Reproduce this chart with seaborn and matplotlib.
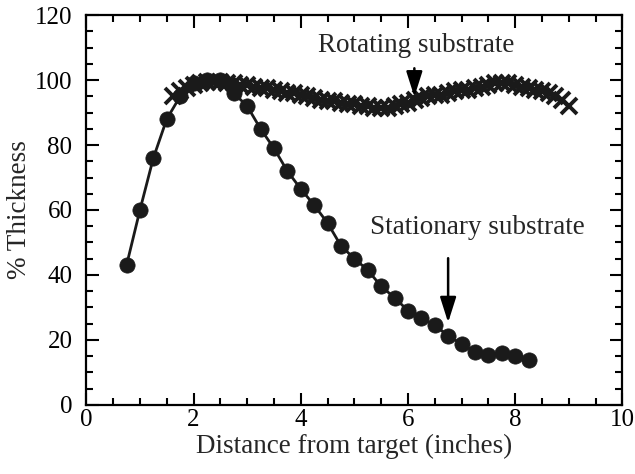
import numpy as np
import pandas as pd
import seaborn as sns
import matplotlib.pyplot as plt
from matplotlib.ticker import MultipleLocator

# Stationary substrate (circles)
stat_x = [0.75, 1.0, 1.25, 1.5, 1.75, 2.0, 2.25, 2.5, 2.75, 3.0, 3.25, 3.5, 3.75, 4.0,
          4.25, 4.5, 4.75, 5.0, 5.25, 5.5, 5.75, 6.0, 6.25, 6.5, 6.75, 7.0, 7.25,
          7.5, 7.75, 8.0, 8.25]
stat_y = [43, 60, 76, 88, 95, 99, 100, 100, 96, 92, 85, 79, 72, 66.5,
          61.5, 56, 49, 45, 41.5, 36.5, 33, 29, 26.7, 24.5, 21.3, 18.7, 16.4,
          15.4, 16, 15, 13.8]

# Rotating substrate (crosses)
rot_x = [1.625, 1.75, 1.875, 2.0, 2.125, 2.25, 2.375, 2.5, 2.625, 2.75, 2.875, 3.0,
         3.125, 3.25, 3.375, 3.5, 3.625, 3.75, 3.875, 4.0, 4.125, 4.25, 4.375, 4.5,
         4.625, 4.75, 4.875, 5.0, 5.125, 5.25, 5.375, 5.5, 5.625, 5.75, 5.875, 6.0,
         6.125, 6.25, 6.375, 6.5, 6.625, 6.75, 6.875, 7.0, 7.125, 7.25, 7.375, 7.5,
         7.625, 7.75, 7.875, 8.0, 8.125, 8.25, 8.375, 8.5, 8.625, 8.75, 8.875, 9.0]
rot_y = [95, 96.5, 97.5, 98.5, 99, 99.5, 99.5, 99.5, 99, 99, 98.5, 98.5,
         98, 97.5, 97.5, 97, 96.5, 96, 96, 95.5, 95, 94.5, 94, 93.5,
         93.5, 93, 92.5, 92.5, 92, 92, 91.5, 91.5, 91.5, 92, 92.5, 93,
         94, 94.5, 95, 95.5, 95.5, 96, 96.5, 97, 97, 97.5, 98, 98.5,
         99, 99, 99, 98.5, 98, 97.5, 97, 96.5, 96, 95, 94, 92]

stat = pd.DataFrame({'x': stat_x, 'y': stat_y})
rot = pd.DataFrame({'x': rot_x, 'y': rot_y})

sns.set_style('ticks')
plt.rcParams['font.family'] = ['Liberation Serif', 'DejaVu Serif']

fig = plt.figure(figsize=(6.35, 4.74), dpi=100)
ax = fig.add_axes([0.136, 0.146, 0.844, 0.822])

sns.lineplot(data=stat, x='x', y='y', ax=ax, color='#1a1a1a', lw=2,
             marker='o', markersize=11, markeredgecolor='#1a1a1a', markeredgewidth=0.5)
sns.lineplot(data=rot, x='x', y='y', ax=ax, color='#1a1a1a', lw=2,
             marker='x', markersize=11, markeredgecolor='#1a1a1a', markeredgewidth=2.8)

ax.set_xlim(0, 10)
ax.set_ylim(0, 120)
ax.xaxis.set_major_locator(MultipleLocator(2))
ax.xaxis.set_minor_locator(MultipleLocator(0.5))
ax.yaxis.set_major_locator(MultipleLocator(20))
ax.yaxis.set_minor_locator(MultipleLocator(5))
ax.tick_params(which='both', direction='in', top=True, right=True, width=1.5,
               colors='black', labelsize=18)
ax.tick_params(axis='x', pad=3)
ax.tick_params(axis='y', pad=10)
ax.tick_params(which='major', length=9)
ax.tick_params(which='minor', length=5)
for s in ax.spines.values():
    s.set_linewidth(1.6)
    s.set_color('black')

ax.set_xlabel('Distance from target (inches)', fontsize=19.5, labelpad=2)
ax.set_ylabel('% Thickness', fontsize=19.5, labelpad=2)

ax.text(6.15, 110.8, 'Rotating substrate', fontsize=19.5, ha='center', va='center')
ax.annotate('', xy=(6.12, 94), xytext=(6.12, 104.5),
            arrowprops=dict(arrowstyle='-|>,head_width=0.35,head_length=1.1',
                            color='black', lw=1.8, mutation_scale=14))
ax.text(7.3, 54.5, 'Stationary substrate', fontsize=19.5, ha='center', va='center')
ax.annotate('', xy=(6.75, 24.5), xytext=(6.75, 46),
            arrowprops=dict(arrowstyle='-|>,head_width=0.35,head_length=1.1',
                            color='black', lw=1.8, mutation_scale=14))

fig.savefig('out.png', dpi=100)
